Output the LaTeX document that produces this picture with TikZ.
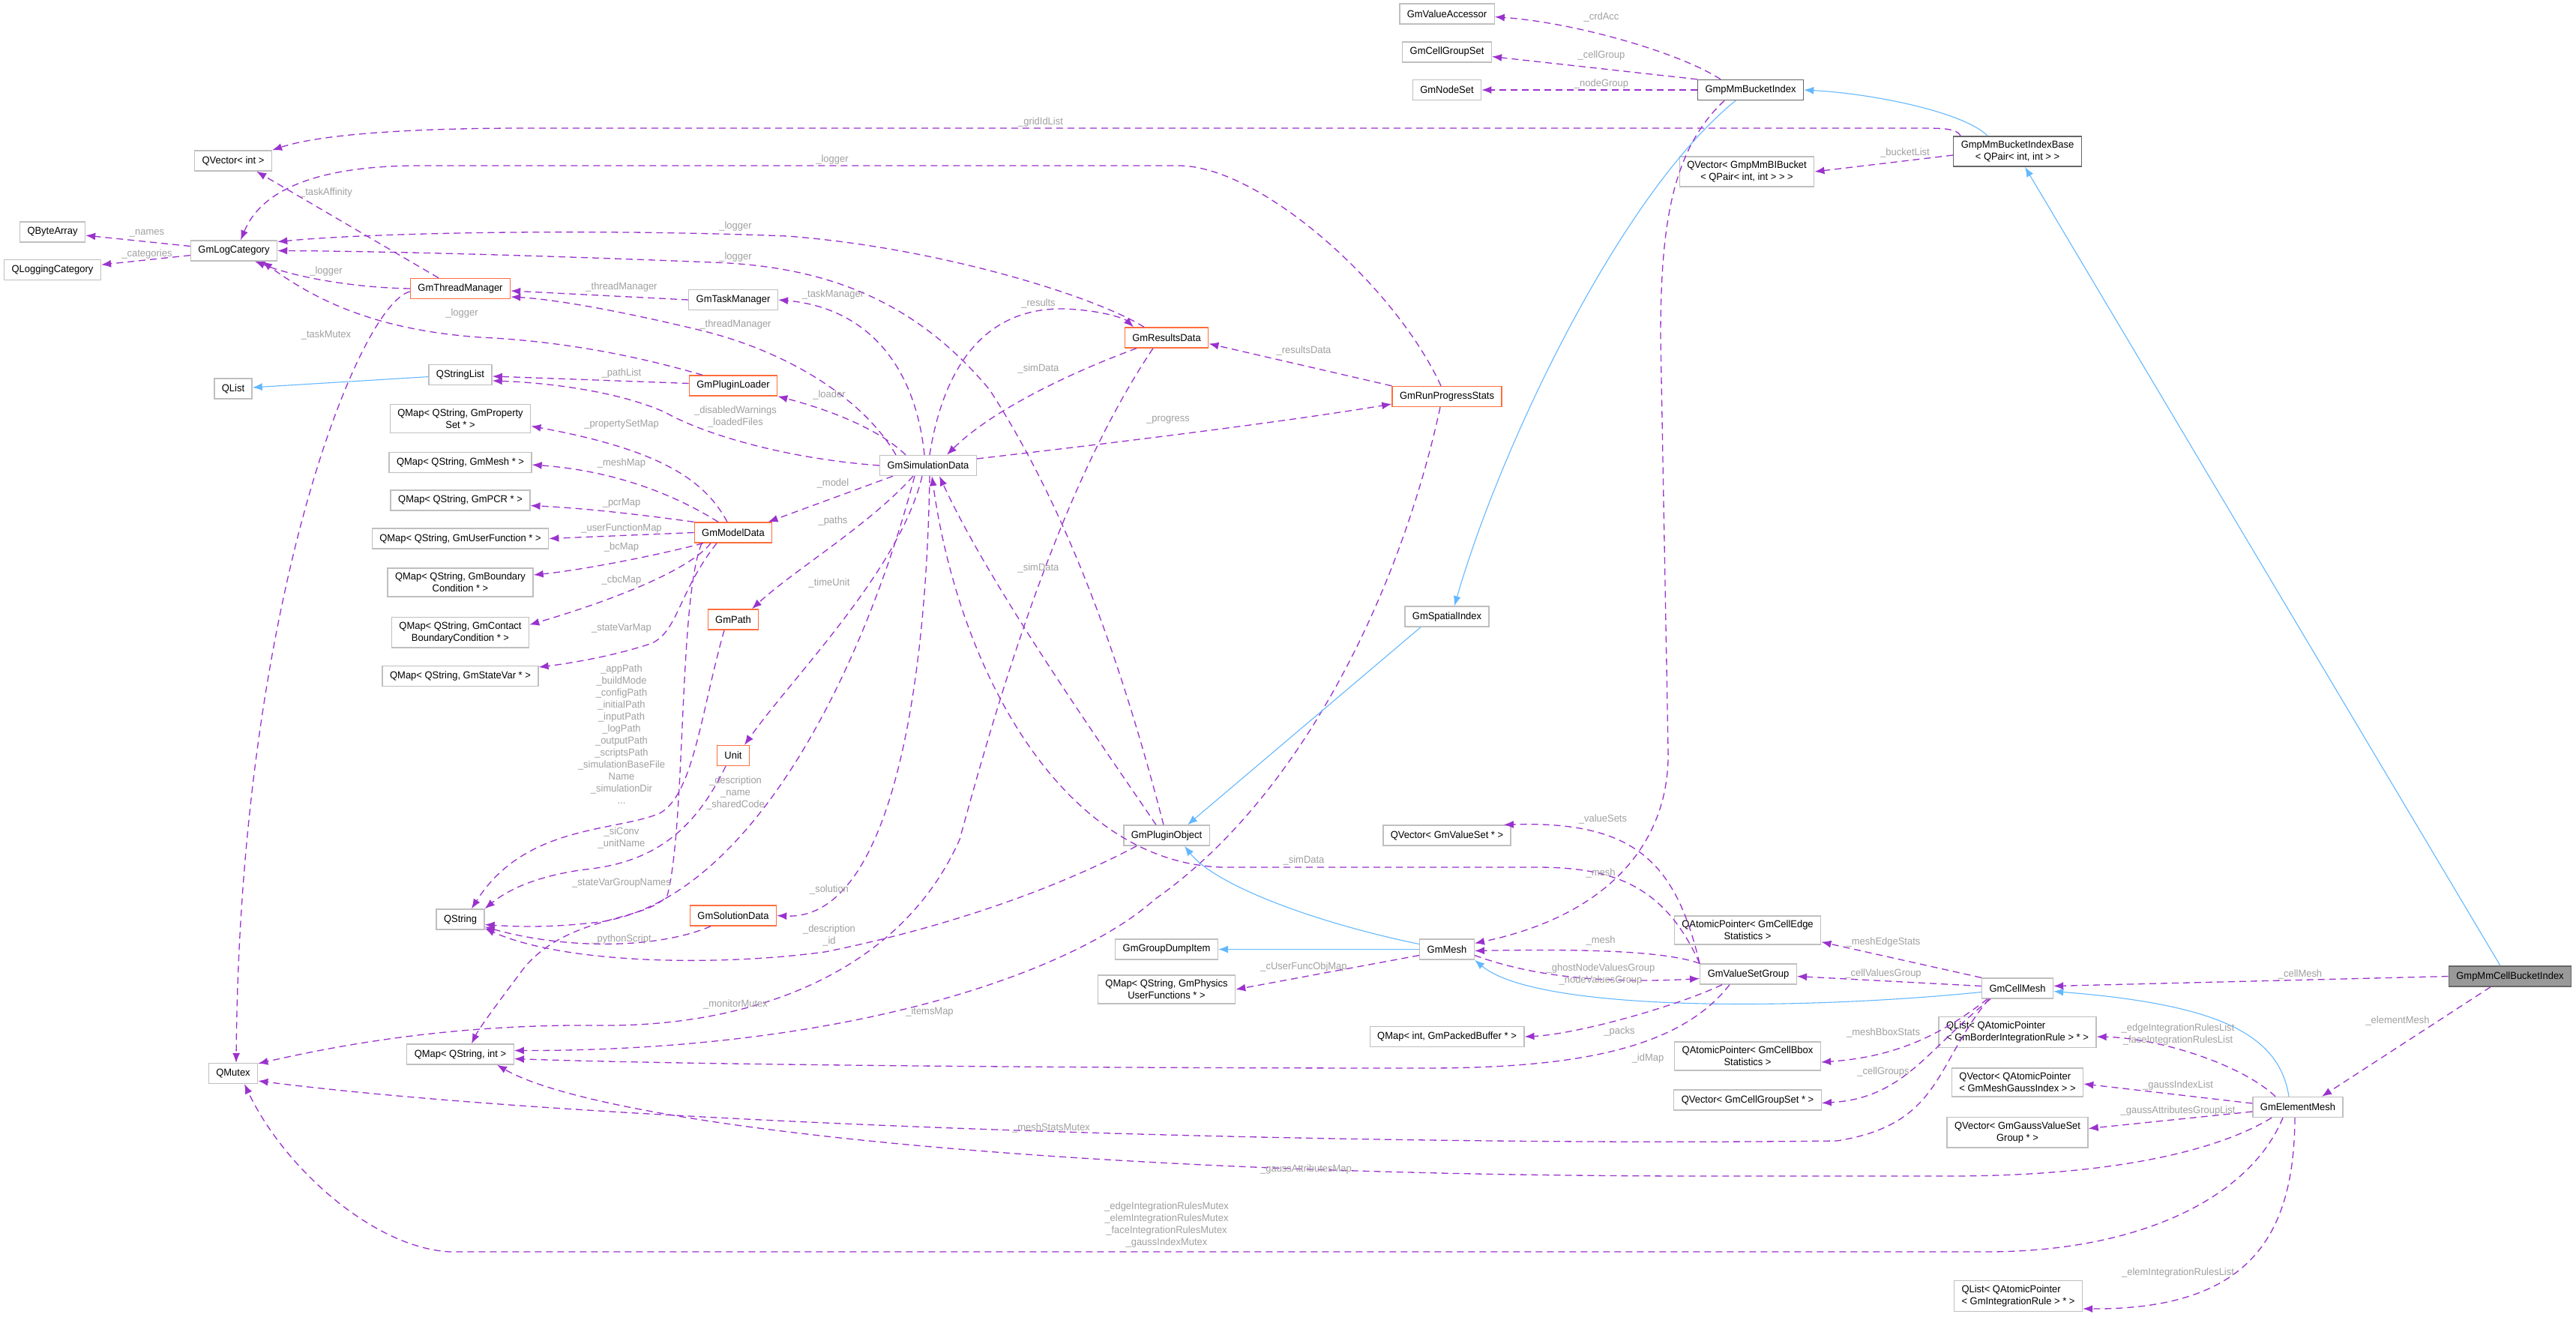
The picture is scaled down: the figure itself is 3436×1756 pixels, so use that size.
\documentclass[tikz,border=0pt]{standalone}
\usepackage{fontspec}
\setmainfont{Liberation Sans}[FakeStretch=0.96]
\usetikzlibrary{arrows.meta}
\definecolor{edgep}{RGB}{154,50,205}
\definecolor{inhb}{RGB}{99,184,255}
\definecolor{lblg}{RGB}{160,160,160}
\definecolor{boxg}{RGB}{191,191,191}
\definecolor{boxo}{RGB}{255,110,60}
\definecolor{boxd}{RGB}{102,102,102}
\definecolor{rootf}{RGB}{153,153,153}
\begin{document}
\begin{tikzpicture}[x=1pt,y=-1pt,
  font=\fontsize{13.5}{16}\selectfont,
  cls/.style={draw=boxg, line width=1.4, fill=white, inner xsep=10, inner ysep=6, minimum height=27, align=center},
  ocls/.style={cls, draw=boxo},
  dcls/.style={cls, draw=boxd},
  rcls/.style={cls, draw=boxd, fill=rootf},
  lcls/.style={cls, align=left},
  use/.style={draw=edgep, line width=1.3, dash pattern=on 9pt off 6pt, -{Latex[length=13pt,width=10pt]}},
  inh/.style={draw=inhb, line width=1.1, -{Latex[length=13pt,width=10pt]}},
  lbl/.style={text=lblg, inner sep=0, align=center},
]
\fill[white] (0,0) rectangle (3436,1756);
\useasboundingbox (0,0) rectangle (3436,1756);

% ---------------- nodes ----------------
\node[cls] (qba) at (70,309.5) {QByteArray};
\node[cls] (qlc) at (70,360) {QLoggingCategory};
\node[cls] (qvi) at (311,214.5) {QVector< int >};
\node[cls] (glc) at (312,334.5) {GmLogCategory};
\node[cls] (qli) at (311,518.5) {QList};
\node[cls] (qmu) at (311,1432) {QMutex};
\node[ocls] (gtm) at (614,385) {GmThreadManager};
\node[cls] (qsl) at (614,500) {QStringList};
\node[cls] (mps) at (614,558.5) {QMap< QString, GmProperty\\Set * >};
\node[cls] (mme) at (614,617) {QMap< QString, GmMesh * >};
\node[cls] (mpc) at (614,667.5) {QMap< QString, GmPCR * >};
\node[cls] (muf) at (614,718.5) {QMap< QString, GmUserFunction * >};
\node[cls] (mbc) at (614,777) {QMap< QString, GmBoundary\\Condition * >};
\node[cls] (mcb) at (614,843.5) {QMap< QString, GmContact\\BoundaryCondition * >};
\node[cls] (msv) at (614,902) {QMap< QString, GmStateVar * >};
\node[cls] (qst) at (614,1226.5) {QString};
\node[cls] (msi) at (614,1406.5) {QMap< QString, int >};
\node[cls] (gtk) at (978,400) {GmTaskManager};
\node[ocls] (gpl) at (978,514.5) {GmPluginLoader};
\node[ocls] (gmd) at (978,710.5) {GmModelData};
\node[ocls] (gpa) at (978,826.5) {GmPath};
\node[ocls] (uni) at (978,1008) {Unit};
\node[ocls] (gso) at (978,1221.5) {GmSolutionData};
\node[cls] (gsd) at (1238,621) {GmSimulationData};
\node[ocls] (grd) at (1556,450.5) {GmResultsData};
\node[cls] (gpo) at (1556,1114.5) {GmPluginObject};
\node[cls] (gdi) at (1556,1266.5) {GmGroupDumpItem};
\node[cls] (mph) at (1556,1320) {QMap< QString, GmPhysics\\UserFunctions * >};
\node[cls] (gva) at (1930,18.5) {GmValueAccessor};
\node[cls] (gcg) at (1930,69.5) {GmCellGroupSet};
\node[cls] (gns) at (1930,120) {GmNodeSet};
\node[ocls] (grp) at (1930,529) {GmRunProgressStats};
\node[cls] (gsi) at (1930,822.5) {GmSpatialIndex};
\node[cls] (qvs) at (1930,1114.5) {QVector< GmValueSet * >};
\node[cls] (gme) at (1930,1266.5) {GmMesh};
\node[cls] (mpb) at (1930,1383) {QMap< int, GmPackedBuffer * >};
\node[dcls] (gbi) at (2335,120) {GmpMmBucketIndex};
\node[cls] (qvb) at (2330,229) {QVector< GmpMmBIBucket\\< QPair< int, int > > >};
\node[cls] (ape) at (2331,1241) {QAtomicPointer< GmCellEdge\\Statistics >};
\node[cls] (vsg) at (2332,1299.5) {GmValueSetGroup};
\node[cls] (apb) at (2331,1409) {QAtomicPointer< GmCellBbox\\Statistics >};
\node[cls] (vcg) at (2331,1467.5) {QVector< GmCellGroupSet * >};
\node[dcls] (gbb) at (2691,202) {GmpMmBucketIndexBase\\< QPair< int, int > >};
\node[cls] (gcm) at (2691,1318.5) {GmCellMesh};
\node[lcls] (lbr) at (2691,1377) {QList< QAtomicPointer\\< GmBorderIntegrationRule > * >};
\node[lcls] (vgi) at (2691,1444) {QVector< QAtomicPointer\\< GmMeshGaussIndex > >};
\node[cls] (vgv) at (2691,1510.5) {QVector< GmGaussValueSet\\Group * >};
\node[lcls] (lir) at (2692,1729) {QList< QAtomicPointer\\< GmIntegrationRule > * >};
\node[cls] (gem) at (3065,1477) {GmElementMesh};
\node[rcls] (root) at (3348,1302.5) {GmpMmCellBucketIndex};

% ---------------- left part ----------------
\draw[use] (glc) -- (qba);
\node[lbl] (l1) at (196,311) {\_names};
\draw[use] (glc) -- (qlc);
\node[lbl] (l2) at (196,339) {\_categories};
\draw[inh] (qsl) -- (qli);

\draw[use] ([xshift=-29]gtm.north) -- ([xshift=-21]qvi.south east);
\node[lbl] (l3) at (435,257) {\_taskAffinity};
\draw[use] (gtm.west) .. controls (480,384) and (400,372) .. ([xshift=28]glc.south);
\node[lbl] (l4) at (435,362) {\_logger};
\draw[use] ([yshift=-4]gtm.west) .. controls (480,405) and (320,800) .. ([xshift=4]qmu.north);
\node[lbl] (l5) at (435,447) {\_taskMutex};

\draw[use] ([xshift=10]gbb.north west) .. controls (2610,171) and (2590,171) .. (2560,171) -- (700,171) .. controls (560,171) and (430,178) .. (qvi.north east);
\node[lbl] (l6) at (1388,163) {\_gridIdList};

\draw[use] ([xshift=-8]grp.north) .. controls (1860,380) and (1680,221) .. (1572,221) -- (560,221) .. controls (430,221) and (350,250) .. ([xshift=9]glc.north);
\node[lbl] (l7) at (1110,213) {\_logger};

\draw[use] ([xshift=-30]grd.north) .. controls (1460,395) and (1250,330) .. (1050,315) .. controls (800,305) and (500,310) .. ([yshift=12]glc.east);
\node[lbl] (l8) at (981,302) {\_logger};

\draw[use] ([xshift=-4]gpo.north) .. controls (1500,900) and (1430,690) .. (1320,520) .. controls (1220,400) and (1100,355) .. (950,350) .. controls (700,340) and (500,335) .. (glc.east);
\node[lbl] (l9) at (981,343) {\_logger};

\draw[use] (gtk.west) -- ([yshift=-3]gtm.east);
\node[lbl] (l10) at (829,383) {\_threadManager};
\draw[use] ([xshift=-43]gsd.north) .. controls (1150,530) and (1050,470) .. (940,442) .. controls (850,420) and (750,400) .. ([yshift=-11]gtm.east);
\node[lbl] (l11) at (981,433) {\_threadManager};
\draw[use] ([xshift=-5]gsd.north) .. controls (1220,480) and (1150,410) .. (gtk.east);
\node[lbl] (l12) at (1111,393) {\_taskManager};

\draw[use] ([xshift=-41]gpl.north) .. controls (850,475) and (750,455) .. (640,450) .. controls (500,440) and (420,400) .. ([xshift=38]glc.south);
\node[lbl] (l13) at (616,418) {\_logger};
\draw[use] ([yshift=3]gpl.west) -- ([yshift=-2]qsl.east);
\node[lbl] (l14) at (829,498) {\_pathList};
\draw[use] (gsd.west) .. controls (1050,612) and (940,580) .. (887,550) .. controls (820,520) and (720,510) .. ([yshift=-8]qsl.east);
\node[lbl] (l15) at (981,556) {\_disabledWarnings\\\_loadedFiles};
\draw[use] ([xshift=-30]gsd.north) .. controls (1170,570) and (1100,545) .. (gpl.south east);
\node[lbl] (l16) at (1106,527) {\_loader};

\draw[use] ([xshift=-40]grd.south) .. controls (1420,500) and (1320,550) .. ([xshift=25]gsd.north);
\node[lbl] (l17) at (1385,492) {\_simData};
\draw[use] ([xshift=2]gsd.north) .. controls (1260,480) and (1320,410) .. (1420,412) .. controls (1470,414) and (1500,425) .. ([xshift=-44]grd.north);
\node[lbl] (l18) at (1385,405) {\_results};
\draw[use] ([yshift=9]gsd.east) .. controls (1450,595) and (1700,565) .. ([yshift=-10]grp.west);
\node[lbl] (l19) at (1558,560) {\_progress};
\draw[use] (grp.north west) -- ([yshift=-8]grd.east);
\node[lbl] (l20) at (1739,468) {\_resultsData};

\draw[use] ([xshift=-9]grp.south) .. controls (1870,780) and (1740,1060) .. (1540,1200) .. controls (1440,1290) and (1150,1402) .. ([yshift=5]msi.east);
\node[lbl] (l21) at (1240,1350) {\_itemsMap};
\draw[use] ([xshift=-18]grd.south) .. controls (1420,640) and (1340,900) .. (1280,1120) .. controls (1200,1300) and (1000,1370) .. (800,1368) .. controls (600,1366) and (450,1395) .. ([yshift=-1]qmu.north east);
\node[lbl] (l22) at (981,1340) {\_monitorMutex};

\draw[use] ([xshift=-14]gpo.north) .. controls (1460,980) and (1320,780) .. ([xshift=15]gsd.south);
\node[lbl] (l23) at (1385,758) {\_simData};

\draw[use] ([xshift=-47]gsd.south) -- ([xshift=-6]gmd.north east);
\node[lbl] (l24) at (1111,645) {\_model};
\draw[use] ([xshift=-20]gsd.south) .. controls (1160,700) and (1060,760) .. ([xshift=25]gpa.north);
\node[lbl] (l25) at (1111,695) {\_paths};
\draw[use] ([xshift=-8]gsd.south) .. controls (1200,760) and (1060,900) .. ([xshift=15]uni.north);
\node[lbl] (l26) at (1106,778) {\_timeUnit};
\draw[use] ([xshift=2]gsd.south) .. controls (1235,950) and (1180,1228) .. (gso.east);
\node[lbl] (l27) at (1106,1187) {\_solution};

\draw[use] ([xshift=-18]gsd.south) .. controls (1150,900) and (1000,1200) .. (800,1230) .. controls (740,1237) and (700,1237) .. ([yshift=-7]qst.east);
\node[lbl] (l28) at (981,1058) {\_description\\\_name\\\_sharedCode};
\draw[use] ([xshift=-40]gpo.south) .. controls (1400,1190) and (1250,1240) .. (1100,1270) .. controls (950,1290) and (750,1285) .. ([yshift=-12]qst.east);
\node[lbl] (l29) at (1106,1248) {\_description\\\_id};
\draw[use] ([xshift=-30]gso.south) .. controls (880,1265) and (760,1268) .. ([yshift=-10]qst.east);
\node[lbl] (l30) at (829,1253) {\_pythonScript};
\draw[use] ([xshift=-10]uni.south) .. controls (930,1100) and (880,1150) .. (780,1160) .. controls (720,1168) and (680,1185) .. (qst.north east);
\node[lbl] (l31) at (829,1118) {\_siConv\\\_unitName};
\draw[use] ([xshift=-12]gpa.south) .. controls (935,950) and (925,1060) .. (880,1085) .. controls (820,1110) and (700,1100) .. ([xshift=15]qst.north);
\node[lbl] (l32) at (829,980) {\_appPath\\\_buildMode\\\_configPath\\\_initialPath\\\_inputPath\\\_logPath\\\_outputPath\\\_scriptsPath\\\_simulationBaseFile\\Name\\\_simulationDir\\...};
\draw[use] ([xshift=-42]gmd.south) .. controls (905,800) and (915,1100) .. (890,1195) .. controls (860,1230) and (760,1220) .. (700,1290) .. controls (670,1330) and (640,1370) .. ([xshift=15]msi.north);
\node[lbl] (l33) at (829,1178) {\_stateVarGroupNames};

\draw[use] ([xshift=-8]gmd.north) .. controls (940,640) and (880,600) .. ([yshift=-10]mps.east);
\node[lbl] (l34) at (829,566) {\_propertySetMap};
\draw[use] ([xshift=-20]gmd.north) .. controls (900,660) and (820,628) .. ([yshift=-3]mme.east);
\node[lbl] (l35) at (829,618) {\_meshMap};
\draw[use] (gmd.north west) .. controls (850,686) and (780,678) .. ([yshift=-7]mpc.east);
\node[lbl] (l36) at (829,671) {\_pcrMap};
\draw[use] (gmd.west) -- (muf.east);
\node[lbl] (l37) at (829,705) {\_userFunctionMap};
\draw[use] ([xshift=-40]gmd.south) .. controls (880,740) and (780,760) .. ([yshift=10]mbc.east);
\node[lbl] (l38) at (829,730) {\_bcMap};
\draw[use] ([xshift=-30]gmd.south) .. controls (920,760) and (820,800) .. ([yshift=10]mcb.east);
\node[lbl] (l39) at (829,774) {\_cbcMap};
\draw[use] ([xshift=-22]gmd.south) .. controls (905,790) and (905,840) .. (870,858) .. controls (820,875) and (760,885) .. ([yshift=12]msv.east);
\node[lbl] (l40) at (829,838) {\_stateVarMap};

% ---------------- right part ----------------
\draw[use] ([xshift=-40]gbi.north) .. controls (2240,70) and (2100,30) .. ([yshift=-4]gva.east);
\node[lbl] (l41) at (2136,23) {\_crdAcc};
\draw[use] (gbi.north west) -- ([yshift=-6]gcg.east);
\node[lbl] (l42) at (2136,74) {\_cellGroup};
\draw[use] (gbi.west) -- (gns.east);
\node[lbl] (l43) at (2136,112) {\_nodeGroup};

\draw[inh] ([xshift=-40]gbb.north) .. controls (2620,150) and (2500,125) .. (gbi.east);
\draw[use] ([yshift=-5]gbb.west) -- (qvb.east);
\node[lbl] (l44) at (2541,204) {\_bucketList};
\draw[inh] ([xshift=-13]root.north) -- ([xshift=10]gbb.south);
\draw[inh] ([xshift=-20]gbi.south) .. controls (2160,260) and (2000,600) .. ([xshift=10]gsi.north);
\draw[inh] ([xshift=-35]gsi.south) -- ([xshift=28]gpo.north);
\draw[inh] ([yshift=7]gme.west) .. controls (1750,1230) and (1620,1180) .. ([xshift=24]gpo.south);
\draw[inh] (gme.west) -- (gdi.east);
\draw[use] ([yshift=-8]gme.west) -- (mph.east);
\node[lbl] (l45) at (1739,1290) {\_cUserFuncObjMap};

\draw[inh] ([yshift=-5]gcm.west) .. controls (2400,1348) and (2050,1350) .. (gme.south east);
\draw[inh] ([xshift=-12]gem.north) .. controls (3040,1380) and (2960,1340) .. ([yshift=-4]gcm.east);
\draw[use] (root.west) -- ([yshift=3]gcm.east);
\node[lbl] (l46) at (3068,1300) {\_cellMesh};
\draw[use] ([xshift=-26]root.south) -- ([xshift=32]gem.north);
\node[lbl] (l47) at (3198,1362) {\_elementMesh};

\draw[use] (gcm.north west) -- ([yshift=4]ape.south east);
\node[lbl] (l48) at (2512,1257) {\_meshEdgeStats};
\draw[use] ([yshift=3]gcm.west) -- ([yshift=-3]vsg.east);
\node[lbl] (l49) at (2512,1299) {\_cellValuesGroup};
\draw[use] ([xshift=-40]gcm.south) .. controls (2590,1380) and (2530,1410) .. ([yshift=-8]apb.east);
\node[lbl] (l50) at (2512,1378) {\_meshBboxStats};
\draw[use] ([xshift=-36]gcm.south) .. controls (2570,1400) and (2540,1465) .. ([yshift=-4]vcg.east);
\node[lbl] (l51) at (2512,1430) {\_cellGroups};
\draw[use] ([xshift=-38]gcm.south) .. controls (2580,1420) and (2590,1500) .. (2450,1522) .. controls (1800,1530) and (800,1500) .. ([yshift=-10]qmu.east);
\node[lbl] (l52) at (1402,1505) {\_meshStatsMutex};

\draw[use] ([xshift=-30]gem.north) .. controls (2990,1420) and (2880,1385) .. ([yshift=-6]lbr.east);
\node[lbl] (l53) at (2905,1380) {\_edgeIntegrationRulesList\\\_faceIntegrationRulesList};
\draw[use] ([yshift=5]gem.west) -- ([yshift=-2]vgi.east);
\node[lbl] (l54) at (2905,1448) {\_gaussIndexList};
\draw[use] ([yshift=-6]gem.west) -- ([yshift=5]vgv.east);
\node[lbl] (l55) at (2905,1482) {\_gaussAttributesGroupList};
\draw[use] ([xshift=-35]gem.south) .. controls (2950,1540) and (2800,1569) .. (2600,1569) -- (2300,1569) .. controls (1400,1570) and (800,1500) .. ([xshift=-23]msi.south east);
\node[lbl] (l56) at (1742,1560) {\_gaussAttributesMap};
\draw[use] ([xshift=-20]gem.south) .. controls (3000,1600) and (2850,1670) .. (2650,1670) -- (600,1670) .. controls (500,1665) and (380,1560) .. ([xshift=15]qmu.south);
\node[lbl] (l57) at (1556,1634) {\_edgeIntegrationRulesMutex\\\_elemIntegrationRulesMutex\\\_faceIntegrationRulesMutex\\\_gaussIndexMutex};
\draw[use] ([xshift=-4]gem.south) .. controls (3060,1650) and (3000,1747) .. ([yshift=4]lir.south east);
\node[lbl] (l58) at (2905,1698) {\_elemIntegrationRulesList};

\draw[use] (vsg.north west) .. controls (2235,1150) and (2180,1095) .. ([xshift=-10]qvs.north east);
\node[lbl] (l59) at (2138,1093) {\_valueSets};
\draw[use] (vsg.north west) .. controls (2220,1180) and (2150,1157) .. (2050,1157) -- (1630,1157) .. controls (1420,1150) and (1280,900) .. ([xshift=5]gsd.south);
\node[lbl] (l60) at (1739,1148) {\_simData};
\draw[use] (vsg.north west) .. controls (2230,1272) and (2150,1265) .. ([yshift=-2]gme.east);
\node[lbl] (l61) at (2135,1255) {\_mesh};
\draw[use] ([xshift=-35]gbi.south) .. controls (2230,200) and (2215,300) .. (2215,450) -- (2225,1000) .. controls (2228,1120) and (2150,1220) .. ([yshift=8]gme.east);
\node[lbl] (l62) at (2135,1165) {\_mesh};
\draw[use] ([yshift=-8]gme.east) .. controls (2050,1305) and (2150,1312) .. ([yshift=-6]vsg.west);
\node[lbl] (l63) at (2135,1300) {\_ghostNodeValuesGroup\\\_nodeValuesGroup};
\draw[use] ([xshift=-35]vsg.south) .. controls (2230,1345) and (2100,1380) .. (mpb.east);
\node[lbl] (l64) at (2160,1376) {\_packs};
\draw[use] ([xshift=-25]vsg.south) .. controls (2240,1400) and (2100,1425) .. (1900,1425) .. controls (1400,1425) and (900,1420) .. ([yshift=-6]msi.east);
\node[lbl] (l65) at (2198,1412) {\_idMap};
\end{tikzpicture}
\end{document}
